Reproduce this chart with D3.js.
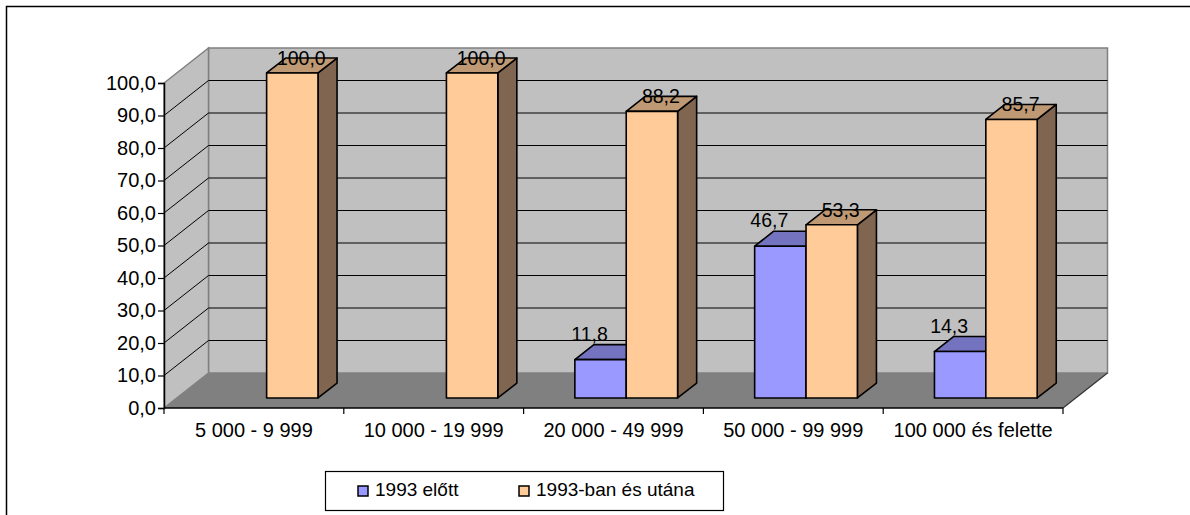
<!DOCTYPE html>
<html>
<head>
<meta charset="utf-8">
<script src="https://cdn.jsdelivr.net/npm/d3@7"></script>
<style>
    html, body { margin: 0; padding: 0; background: #ffffff; }
    svg text { font-family: Arial, 'Liberation Sans', sans-serif; fill: #000000; }
</style>
</head>
<body>
<svg id="chart" width="1190" height="515"></svg>
<script>
var categories = ['5 000 - 9 999', '10 000 - 19 999', '20 000 - 49 999', '50 000 - 99 999', '100 000 és felette'];
var seriesNames = ['1993 előtt', '1993-ban és utána'];
var before1993 = [null, null, 11.8, 46.7, 14.3];
var after1993 = [100.0, 100.0, 88.2, 53.3, 85.7];
var yTicks = [0, 10, 20, 30, 40, 50, 60, 70, 80, 90, 100];

(function () {
    'use strict';

    var svg = d3.select('#chart');

    // front plane of the plot and the depth vector of the box
    var left = 164, right = 1063, base = 408, top = 83;
    var DX = 44.5, DY = -35;
    var zFront = 0.286, zBack = 0.714;

    var colors = [
        { front: '#9999FF', top: '#7373BF', side: '#4D4D80' },
        { front: '#FFCC99', top: '#BF9973', side: '#806650' }
    ];

    var x0 = d3.scaleBand().domain(categories).range([left, right]).padding(0);
    var x1 = d3.scaleBand().domain(seriesNames).range([0, x0.bandwidth()]).paddingInner(0).paddingOuter(0.75);
    var y = d3.scaleLinear().domain([0, 100]).range([base, top]);

    function p(px, v, z) {
        return [px + z * DX, y(v) + z * DY];
    }
    function pts(list) {
        return list.map(function (d) { return d.join(','); }).join(' ');
    }

    // outer border
    svg.append('rect')
        .attr('x', 6.5).attr('y', 6.5)
        .attr('width', 1200).attr('height', 600)
        .attr('fill', 'none')
        .attr('stroke', '#000000')
        .attr('stroke-width', 1.5);

    var walls = svg.append('g').attr('class', 'walls');

    // back wall
    walls.append('polygon')
        .attr('points', pts([p(left, 0, 1), p(right, 0, 1), p(right, 100, 1), p(left, 100, 1)]))
        .attr('fill', '#C0C0C0')
        .attr('stroke', '#808080')
        .attr('stroke-width', 1.5);

    // side wall
    walls.append('polygon')
        .attr('points', pts([p(left, 0, 0), p(left, 0, 1), p(left, 100, 1), p(left, 100, 0)]))
        .attr('fill', '#C0C0C0')
        .attr('stroke', '#808080')
        .attr('stroke-width', 1.5);

    // floor
    walls.append('polygon')
        .attr('points', pts([p(left, 0, 0), p(right, 0, 0), p(right, 0, 1), p(left, 0, 1)]))
        .attr('fill', '#808080')
        .attr('stroke', 'none');
    walls.append('line')
        .attr('x1', p(right, 0, 0)[0]).attr('y1', p(right, 0, 0)[1])
        .attr('x2', p(right, 0, 1)[0]).attr('y2', p(right, 0, 1)[1])
        .attr('stroke', '#333333')
        .attr('stroke-width', 1.2);

    // gridlines, back wall and side wall
    var grid = svg.append('g').attr('class', 'grid');
    var inner = yTicks.filter(function (t) { return t > 0 && t < 100; });
    grid.selectAll('.gback')
        .data(inner)
        .enter().append('line')
        .attr('class', 'gback')
        .attr('x1', function (d) { return p(left, d, 1)[0]; })
        .attr('y1', function (d) { return p(left, d, 1)[1]; })
        .attr('x2', function (d) { return p(right, d, 1)[0]; })
        .attr('y2', function (d) { return p(right, d, 1)[1]; })
        .attr('stroke', '#000000')
        .attr('stroke-width', 1);
    grid.selectAll('.gside')
        .data(inner)
        .enter().append('line')
        .attr('class', 'gside')
        .attr('x1', function (d) { return p(left, d, 0)[0]; })
        .attr('y1', function (d) { return p(left, d, 0)[1]; })
        .attr('x2', function (d) { return p(left, d, 1)[0]; })
        .attr('y2', function (d) { return p(left, d, 1)[1]; })
        .attr('stroke', '#000000')
        .attr('stroke-width', 1);

    // axes
    var yAxis = d3.axisLeft(y)
        .tickValues(yTicks)
        .tickSize(6)
        .tickPadding(2)
        .tickFormat(function (d) { return d3.format('.1f')(d).replace('.', ','); });
    var gy = svg.append('g')
        .attr('class', 'y-axis')
        .attr('transform', 'translate(' + left + ',0)')
        .call(yAxis);
    gy.select('.domain').attr('stroke', '#000000').attr('stroke-width', 1.5);
    gy.selectAll('.tick line').attr('stroke', '#000000').attr('stroke-width', 1.2);
    gy.selectAll('.tick text')
        .attr('font-size', '20px')
        .style('font-family', 'Arial, "Liberation Sans", sans-serif');

    svg.append('line')
        .attr('x1', left).attr('y1', base)
        .attr('x2', right).attr('y2', base)
        .attr('stroke', '#000000')
        .attr('stroke-width', 1.5);
    var bounds = categories.map(function (c) { return x0(c); }).concat([right]);
    svg.selectAll('.xtick')
        .data(bounds)
        .enter().append('line')
        .attr('class', 'xtick')
        .attr('x1', function (d) { return d; }).attr('y1', base)
        .attr('x2', function (d) { return d; }).attr('y2', base + 6)
        .attr('stroke', '#000000')
        .attr('stroke-width', 1.2);
    svg.selectAll('.xlabel')
        .data(categories)
        .enter().append('text')
        .attr('class', 'xlabel')
        .attr('x', function (d) { return x0(d) + x0.bandwidth() / 2; })
        .attr('y', 437)
        .attr('text-anchor', 'middle')
        .attr('font-size', '20px')
        .text(function (d) { return d; });

    // bars
    var series = [before1993, after1993];
    var bars = svg.append('g').attr('class', 'bars');
    categories.forEach(function (c, ci) {
        series.forEach(function (vals, si) {
            var v = vals[ci];
            if (v == null) {
                return;
            }
            var xa = x0(c) + x1(seriesNames[si]),
                xb = xa + x1.bandwidth(),
                col = colors[si];
            var g = bars.append('g').attr('class', 'bar s' + si);
            g.append('polygon')
                .attr('points', pts([p(xb, 0, zFront), p(xb, v, zFront), p(xb, v, zBack), p(xb, 0, zBack)]))
                .attr('fill', col.side);
            g.append('polygon')
                .attr('points', pts([p(xa, v, zFront), p(xb, v, zFront), p(xb, v, zBack), p(xa, v, zBack)]))
                .attr('fill', col.top);
            g.append('polygon')
                .attr('points', pts([p(xa, 0, zFront), p(xb, 0, zFront), p(xb, v, zFront), p(xa, v, zFront)]))
                .attr('fill', col.front);
            g.selectAll('polygon')
                .attr('stroke', '#000000')
                .attr('stroke-width', 1.6)
                .attr('stroke-linejoin', 'round');
        });
    });

    // data labels
    var labels = svg.append('g').attr('class', 'labels');
    categories.forEach(function (c, ci) {
        series.forEach(function (vals, si) {
            var v = vals[ci];
            if (v == null) {
                return;
            }
            var xa = x0(c) + x1(seriesNames[si]),
                front = p(xa + x1.bandwidth() / 2, v, zFront);
            labels.append('text')
                .attr('x', front[0] + (si === 0 ? -11 : 9))
                .attr('y', front[1] + (si === 0 ? -19 : -8))
                .attr('text-anchor', 'middle')
                .attr('font-size', '19.5px')
                .text(d3.format('.1f')(v).replace('.', ','));
        });
    });

    // legend
    var legend = svg.append('g').attr('class', 'legend');
    legend.append('rect')
        .attr('x', 325.5).attr('y', 471.5)
        .attr('width', 398).attr('height', 39)
        .attr('fill', '#ffffff')
        .attr('stroke', '#000000')
        .attr('stroke-width', 1.2);
    var legendX = [358, 519];
    var item = legend.selectAll('.item')
        .data(seriesNames)
        .enter().append('g')
        .attr('class', 'item')
        .attr('transform', function (d, i) { return 'translate(' + legendX[i] + ',486)'; });
    item.append('rect')
        .attr('width', 10).attr('height', 10)
        .attr('fill', function (d, i) { return colors[i].front; })
        .attr('stroke', '#000000')
        .attr('stroke-width', 1.5);
    item.append('text')
        .attr('x', 17)
        .attr('y', 10)
        .attr('font-size', '19px')
        .text(function (d) { return d; });
})();
</script>
</body>
</html>
